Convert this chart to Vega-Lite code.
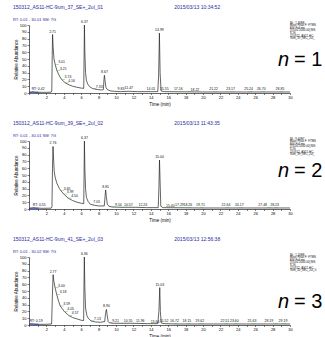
{
  "$schema": "https://vega.github.io/schema/vega-lite/v6.json",
  "padding": {"left": 12, "top": 5, "right": 0, "bottom": 0},
  "background": "white",
  "datasets": {
    "trace": [
      {"p":1,"t":0,"a":1},{"p":1,"t":0.3,"a":1.5},{"p":1,"t":0.42,"a":2},{"p":1,"t":0.6,"a":1.5},{"p":1,"t":1.0,"a":1},{"p":1,"t":2.0,"a":1},{"p":1,"t":2.55,"a":1.2},
      {"p":1,"t":2.62,"a":3},{"p":1,"t":2.67,"a":55},{"p":1,"t":2.71,"a":86},{"p":1,"t":2.77,"a":68},{"p":1,"t":2.87,"a":50},{"p":1,"t":3.01,"a":42},{"p":1,"t":3.21,"a":33},
      {"p":1,"t":3.5,"a":25},{"p":1,"t":3.74,"a":20},{"p":1,"t":4.16,"a":15},{"p":1,"t":4.6,"a":12},{"p":1,"t":5.0,"a":10},{"p":1,"t":5.5,"a":8.5},{"p":1,"t":6.0,"a":7.2},{"p":1,"t":6.29,"a":6.8},
      {"p":1,"t":6.33,"a":50},{"p":1,"t":6.37,"a":100},{"p":1,"t":6.42,"a":60},{"p":1,"t":6.5,"a":30},{"p":1,"t":6.6,"a":18},{"p":1,"t":6.8,"a":12},{"p":1,"t":7.0,"a":9},{"p":1,"t":7.33,"a":6.5},
      {"p":1,"t":7.9,"a":5},{"p":1,"t":8.4,"a":4.5},{"p":1,"t":8.55,"a":5},{"p":1,"t":8.62,"a":20},{"p":1,"t":8.67,"a":26},{"p":1,"t":8.74,"a":18},{"p":1,"t":8.85,"a":8},{"p":1,"t":9.0,"a":5},
      {"p":1,"t":9.4,"a":3},{"p":1,"t":9.83,"a":2.5},{"p":1,"t":10.5,"a":2},{"p":1,"t":11.47,"a":2.5},{"p":1,"t":12.5,"a":2},{"p":1,"t":14.01,"a":2},{"p":1,"t":14.8,"a":2},
      {"p":1,"t":14.9,"a":25},{"p":1,"t":14.99,"a":88},{"p":1,"t":15.07,"a":30},{"p":1,"t":15.18,"a":3},{"p":1,"t":15.55,"a":2},{"p":1,"t":17.16,"a":1.8},{"p":1,"t":20,"a":1.5},{"p":1,"t":25,"a":1.5},{"p":1,"t":30,"a":1.5},

      {"p":2,"t":0,"a":1},{"p":2,"t":0.3,"a":1.5},{"p":2,"t":0.55,"a":2},{"p":2,"t":0.8,"a":1.5},{"p":2,"t":1.5,"a":1},{"p":2,"t":2.55,"a":1.2},
      {"p":2,"t":2.64,"a":3},{"p":2,"t":2.7,"a":60},{"p":2,"t":2.76,"a":92},{"p":2,"t":2.82,"a":75},{"p":2,"t":2.9,"a":55},{"p":2,"t":3.0,"a":47},{"p":2,"t":3.2,"a":38},
      {"p":2,"t":3.5,"a":30},{"p":2,"t":3.65,"a":27},{"p":2,"t":3.99,"a":22},{"p":2,"t":4.5,"a":16},{"p":2,"t":5.0,"a":12.5},{"p":2,"t":5.5,"a":10},{"p":2,"t":6.0,"a":8.5},{"p":2,"t":6.29,"a":7.8},
      {"p":2,"t":6.33,"a":50},{"p":2,"t":6.37,"a":100},{"p":2,"t":6.42,"a":60},{"p":2,"t":6.5,"a":30},{"p":2,"t":6.6,"a":17},{"p":2,"t":6.8,"a":11},{"p":2,"t":7.05,"a":7},{"p":2,"t":7.5,"a":5.5},
      {"p":2,"t":8.0,"a":4.5},{"p":2,"t":8.65,"a":4.5},{"p":2,"t":8.74,"a":18},{"p":2,"t":8.81,"a":28},{"p":2,"t":8.89,"a":18},{"p":2,"t":9.0,"a":7},{"p":2,"t":9.2,"a":4},{"p":2,"t":9.54,"a":3},
      {"p":2,"t":10.57,"a":2.5},{"p":2,"t":12.24,"a":2.5},{"p":2,"t":13.5,"a":2},{"p":2,"t":14.85,"a":2},{"p":2,"t":14.93,"a":30},{"p":2,"t":15.0,"a":72},{"p":2,"t":15.07,"a":40},{"p":2,"t":15.15,"a":4},
      {"p":2,"t":15.4,"a":2},{"p":2,"t":17.29,"a":1.8},{"p":2,"t":20,"a":1.5},{"p":2,"t":25,"a":1.5},{"p":2,"t":30,"a":1.5},

      {"p":3,"t":0,"a":1},{"p":3,"t":0.19,"a":2},{"p":3,"t":0.5,"a":1.5},{"p":3,"t":1.0,"a":1},{"p":3,"t":2.0,"a":1},{"p":3,"t":2.6,"a":1.5},
      {"p":3,"t":2.68,"a":40},{"p":3,"t":2.77,"a":74},{"p":3,"t":2.86,"a":64},{"p":3,"t":3.0,"a":55},{"p":3,"t":3.18,"a":45},{"p":3,"t":3.4,"a":35},{"p":3,"t":3.59,"a":28},
      {"p":3,"t":4.05,"a":20},{"p":3,"t":4.57,"a":14},{"p":3,"t":5.0,"a":11},{"p":3,"t":5.5,"a":9},{"p":3,"t":6.0,"a":7},{"p":3,"t":6.28,"a":6.5},
      {"p":3,"t":6.32,"a":60},{"p":3,"t":6.36,"a":100},{"p":3,"t":6.42,"a":55},{"p":3,"t":6.5,"a":25},{"p":3,"t":6.65,"a":14},{"p":3,"t":6.8,"a":10},{"p":3,"t":7.13,"a":6},{"p":3,"t":7.6,"a":4.5},
      {"p":3,"t":8.2,"a":4},{"p":3,"t":8.7,"a":5},{"p":3,"t":8.8,"a":17},{"p":3,"t":8.9,"a":23},{"p":3,"t":8.98,"a":15},{"p":3,"t":9.1,"a":5},{"p":3,"t":9.21,"a":3.5},{"p":3,"t":9.6,"a":2.5},
      {"p":3,"t":10.55,"a":2.5},{"p":3,"t":11.96,"a":2.5},{"p":3,"t":13.64,"a":2},{"p":3,"t":14.8,"a":2},{"p":3,"t":14.93,"a":20},{"p":3,"t":15.03,"a":55},{"p":3,"t":15.1,"a":20},{"p":3,"t":15.2,"a":3},
      {"p":3,"t":15.52,"a":2},{"p":3,"t":17,"a":1.5},{"p":3,"t":20,"a":1.5},{"p":3,"t":25,"a":1.5},{"p":3,"t":30,"a":1.5}
    ],
    "lab": [
      {"p":1,"t":2.71,"a":86,"s":"2.71","k":"c"},{"p":1,"t":6.37,"a":100,"s":"6.37","k":"c"},{"p":1,"t":8.67,"a":26,"s":"8.67","k":"c"},{"p":1,"t":14.99,"a":88,"s":"14.99","k":"c"},
      {"p":1,"t":0.42,"a":2,"s":"RT: 0.42","k":"l"},
      {"p":1,"t":3.01,"a":42,"s":"3.01","k":"r"},{"p":1,"t":3.21,"a":33,"s":"3.21","k":"r"},{"p":1,"t":3.74,"a":20,"s":"3.74","k":"r"},{"p":1,"t":4.16,"a":15,"s":"4.16","k":"r"},
      {"p":1,"t":7.33,"a":6.5,"s":"7.33","k":"r"},{"p":1,"t":9.83,"a":2.5,"s":"9.83","k":"r"},
      {"p":1,"t":11.47,"a":2.5,"s":"11.47","k":"c"},{"p":1,"t":14.01,"a":2,"s":"14.01","k":"c"},{"p":1,"t":15.55,"a":2,"s":"15.55","k":"c"},{"p":1,"t":17.16,"a":2,"s":"17.16","k":"c"},
      {"p":1,"t":18.22,"a":2,"s":"18.22","k":"r"},{"p":1,"t":21.22,"a":2,"s":"21.22","k":"c"},{"p":1,"t":23.17,"a":2,"s":"23.17","k":"c"},{"p":1,"t":25.24,"a":2,"s":"25.24","k":"c"},
      {"p":1,"t":26.70,"a":2,"s":"26.70","k":"c"},{"p":1,"t":28.85,"a":2,"s":"28.85","k":"c"},

      {"p":2,"t":2.76,"a":92,"s":"2.76","k":"c"},{"p":2,"t":6.37,"a":100,"s":"6.37","k":"c"},{"p":2,"t":8.81,"a":28,"s":"8.81","k":"c"},{"p":2,"t":15.0,"a":72,"s":"15.00","k":"c"},
      {"p":2,"t":0.55,"a":2,"s":"RT: 0.55","k":"l"},
      {"p":2,"t":3.65,"a":27,"s":"3.65","k":"r"},{"p":2,"t":3.99,"a":22,"s":"3.99","k":"r"},{"p":2,"t":4.5,"a":16,"s":"4.50","k":"r"},
      {"p":2,"t":7.05,"a":7,"s":"7.05","k":"r"},{"p":2,"t":9.54,"a":3,"s":"9.54","k":"r"},
      {"p":2,"t":10.57,"a":2.5,"s":"10.57","k":"r"},{"p":2,"t":12.24,"a":2.5,"s":"12.24","k":"r"},{"p":2,"t":15.4,"a":2,"s":"15.40","k":"r"},{"p":2,"t":17.29,"a":2,"s":"17.29","k":"c"},
      {"p":2,"t":18.26,"a":2,"s":"18.26","k":"c"},{"p":2,"t":19.71,"a":2,"s":"19.71","k":"c"},{"p":2,"t":22.64,"a":2,"s":"22.64","k":"c"},{"p":2,"t":24.17,"a":2,"s":"24.17","k":"c"},
      {"p":2,"t":27.48,"a":2,"s":"27.48","k":"w"},{"p":2,"t":28.23,"a":2,"s":"28.23","k":"c"},

      {"p":3,"t":2.77,"a":74,"s":"2.77","k":"c"},{"p":3,"t":6.36,"a":100,"s":"6.36","k":"c"},{"p":3,"t":8.9,"a":23,"s":"8.90","k":"c"},{"p":3,"t":15.03,"a":55,"s":"15.03","k":"c"},
      {"p":3,"t":0.19,"a":2,"s":"RT: 0.19","k":"l"},
      {"p":3,"t":3.0,"a":55,"s":"3.00","k":"r"},{"p":3,"t":3.18,"a":45,"s":"3.18","k":"r"},{"p":3,"t":3.59,"a":28,"s":"3.59","k":"r"},{"p":3,"t":4.05,"a":20,"s":"4.05","k":"r"},
      {"p":3,"t":4.57,"a":14,"s":"4.57","k":"r"},{"p":3,"t":7.13,"a":6,"s":"7.13","k":"r"},{"p":3,"t":9.21,"a":3.5,"s":"9.21","k":"r"},
      {"p":3,"t":10.55,"a":2.5,"s":"10.55","k":"r"},{"p":3,"t":11.96,"a":2.5,"s":"11.96","k":"r"},{"p":3,"t":13.64,"a":2,"s":"13.64","k":"r"},{"p":3,"t":15.52,"a":2,"s":"15.52","k":"c"},
      {"p":3,"t":16.72,"a":2,"s":"16.72","k":"c"},{"p":3,"t":18.15,"a":2,"s":"18.15","k":"c"},{"p":3,"t":19.62,"a":2,"s":"19.62","k":"c"},{"p":3,"t":22.51,"a":2,"s":"22.51","k":"c"},
      {"p":3,"t":23.60,"a":2,"s":"23.60","k":"c"},{"p":3,"t":25.63,"a":2,"s":"25.63","k":"c"},{"p":3,"t":28.19,"a":2,"s":"28.19","k":"w"},{"p":3,"t":29.19,"a":2,"s":"29.19","k":"c"}
    ],
    "meta": [
      {"p":1,"file":"150312_AS11-HC-9um_37_SE+_2ul_01","rt":"RT: 0.01 - 30.01   SM: 7G","date":"2015/03/13 10:34:52","info":"NL: 1.36E8\nBase Peak F: FTMS\nESI Full ms\n[70.00-1000.00]  MS\nICIS\n150312_AS11-HC-\n9um_37_SE+_2ul_","n":"= 1"},
      {"p":2,"file":"150312_AS11-HC-9um_39_SE+_2ul_02","rt":"RT: 0.01 - 30.01   SM: 7G","date":"2015/03/13 11:43:35","info":"NL: 9.40E7\nBase Peak F: FTMS\nESI Full ms\n[70.00-1000.00]  MS\nICIS\n150312_AS11-HC-\n9um_39_SE+_2ul_","n":"= 2"},
      {"p":3,"file":"150312_AS11-HC-9um_41_SE+_2ul_03","rt":"RT: 0.01 - 30.02   SM: 7G","date":"2015/03/13 12:56:38","info":"NL: 1.16E8\nBase Peak F: FTMS\nESI Full ms\n[70.00-1000.00]  MS\nICIS\n150312_AS11-HC-\n9um_41_SE+_2ul_0","n":"= 3"}
    ]
  },
  "spacing": 15,
  "vconcat": [
    {
      "width": 261, "height": 68,
      "resolve": {"axis": {"x": "independent", "y": "independent"}},
      "layer": [
        {"data": {"name": "trace"}, "transform": [{"filter": "datum.p == 1"}], "mark": {"type": "line", "color": "#222", "strokeWidth": 0.7},
         "encoding": {
           "x": {"field": "t", "type": "quantitative", "scale": {"domain": [0, 30], "nice": false}, "title": "Time (min)",
                 "axis": {"format": "d", "labelOverlap": false, "values": [0,0.5,1,1.5,2,2.5,3,3.5,4,4.5,5,5.5,6,6.5,7,7.5,8,8.5,9,9.5,10,10.5,11,11.5,12,12.5,13,13.5,14,14.5,15,15.5,16,16.5,17,17.5,18,18.5,19,19.5,20,20.5,21,21.5,22,22.5,23,23.5,24,24.5,25,25.5,26,26.5,27,27.5,28,28.5,29,29.5,30], "labelExpr": "datum.value > 0 && datum.value % 2 == 0 ? datum.label : ''"}},
           "y": {"field": "a", "type": "quantitative", "scale": {"domain": [0, 100], "nice": false}, "title": "Relative Abundance",
                 "axis": {"labelOverlap": false, "values": [0,10,20,30,40,50,60,70,80,90,100]}}}},
        {"data": {"name": "lab"}, "transform": [{"filter": "datum.p == 1 && (datum.k == 'r' || datum.a < 5) && datum.k != 'l'"}], "mark": {"type": "tick", "orient": "horizontal", "size": 4, "thickness": 0.6, "xOffset": 1.5, "color": "#3cb043"},
         "encoding": {"x": {"field": "t", "type": "quantitative", "axis": null}, "y": {"field": "a", "type": "quantitative", "axis": null}}},
        {"data": {"name": "meta"}, "transform": [{"filter": "datum.p == 1"}], "mark": {"type": "tick", "orient": "horizontal", "size": 9, "thickness": 1.3, "color": "#2a3ad0"},
         "encoding": {"x": {"datum": 0.6, "type": "quantitative", "axis": null}, "y": {"datum": 0.8, "type": "quantitative", "axis": null}}},
        {"data": {"name": "lab"}, "transform": [{"filter": "datum.p == 1 && datum.k == 'c'"}], "mark": {"type": "text", "fontSize": 3.5, "dy": -3, "color": "#111"},
         "encoding": {"x": {"field": "t", "type": "quantitative", "axis": null}, "y": {"field": "a", "type": "quantitative", "axis": null}, "text": {"field": "s"}}},
        {"data": {"name": "lab"}, "transform": [{"filter": "datum.p == 1 && datum.k == 'r'"}], "mark": {"type": "text", "fontSize": 3.5, "dx": 3, "dy": -2, "align": "left", "color": "#111"},
         "encoding": {"x": {"field": "t", "type": "quantitative", "axis": null}, "y": {"field": "a", "type": "quantitative", "axis": null}, "text": {"field": "s"}}},
        {"data": {"name": "lab"}, "transform": [{"filter": "datum.p == 1 && datum.k == 'l'"}], "mark": {"type": "text", "fontSize": 3.5, "dx": -1, "dy": -3, "align": "left", "color": "#111"},
         "encoding": {"x": {"field": "t", "type": "quantitative", "axis": null}, "y": {"field": "a", "type": "quantitative", "axis": null}, "text": {"field": "s"}}},
        {"data": {"name": "meta"}, "transform": [{"filter": "datum.p == 1"}], "mark": {"type": "text", "fontSize": 5, "align": "left", "baseline": "middle", "color": "#2a2aa0"},
         "encoding": {"x": {"datum": -1.84, "type": "quantitative", "axis": null}, "y": {"datum": 126, "type": "quantitative", "axis": null}, "text": {"field": "file"}}},
        {"data": {"name": "meta"}, "transform": [{"filter": "datum.p == 1"}], "mark": {"type": "text", "fontSize": 5, "align": "left", "baseline": "middle", "color": "#2a2aa0"},
         "encoding": {"x": {"datum": 16.7, "type": "quantitative", "axis": null}, "y": {"datum": 126, "type": "quantitative", "axis": null}, "text": {"field": "date"}}},
        {"data": {"name": "meta"}, "transform": [{"filter": "datum.p == 1"}], "mark": {"type": "text", "fontSize": 4, "align": "left", "baseline": "middle", "color": "#2a2aa0"},
         "encoding": {"x": {"datum": -1.84, "type": "quantitative", "axis": null}, "y": {"datum": 108, "type": "quantitative", "axis": null}, "text": {"field": "rt"}}},
        {"data": {"name": "meta"}, "transform": [{"filter": "datum.p == 1"}], "mark": {"type": "text", "fontSize": 2.9, "lineHeight": 2.6, "lineBreak": "\n", "align": "left", "baseline": "top", "color": "#111"},
         "encoding": {"x": {"datum": 30, "type": "quantitative", "axis": null}, "y": {"datum": 105, "type": "quantitative", "axis": null}, "text": {"field": "info"}}},
        {"data": {"name": "meta"}, "transform": [{"filter": "datum.p == 1"}], "mark": {"type": "text", "fontSize": 20, "fontStyle": "italic", "align": "right", "baseline": "middle", "dx": -1, "color": "#000"},
         "encoding": {"x": {"datum": 30, "type": "quantitative", "axis": null}, "y": {"datum": 48, "type": "quantitative", "axis": null}, "text": {"value": "n"}}},
        {"data": {"name": "meta"}, "transform": [{"filter": "datum.p == 1"}], "mark": {"type": "text", "fontSize": 20, "align": "left", "baseline": "middle", "dx": 4, "color": "#000"},
         "encoding": {"x": {"datum": 30, "type": "quantitative", "axis": null}, "y": {"datum": 48, "type": "quantitative", "axis": null}, "text": {"field": "n"}}}
      ]
    },
    {
      "width": 261, "height": 68,
      "resolve": {"axis": {"x": "independent", "y": "independent"}},
      "layer": [
        {"data": {"name": "trace"}, "transform": [{"filter": "datum.p == 2"}], "mark": {"type": "line", "color": "#222", "strokeWidth": 0.7},
         "encoding": {
           "x": {"field": "t", "type": "quantitative", "scale": {"domain": [0, 30], "nice": false}, "title": "Time (min)",
                 "axis": {"format": "d", "labelOverlap": false, "values": [0,0.5,1,1.5,2,2.5,3,3.5,4,4.5,5,5.5,6,6.5,7,7.5,8,8.5,9,9.5,10,10.5,11,11.5,12,12.5,13,13.5,14,14.5,15,15.5,16,16.5,17,17.5,18,18.5,19,19.5,20,20.5,21,21.5,22,22.5,23,23.5,24,24.5,25,25.5,26,26.5,27,27.5,28,28.5,29,29.5,30], "labelExpr": "datum.value > 0 && datum.value % 2 == 0 ? datum.label : ''"}},
           "y": {"field": "a", "type": "quantitative", "scale": {"domain": [0, 100], "nice": false}, "title": "Relative Abundance",
                 "axis": {"labelOverlap": false, "values": [0,10,20,30,40,50,60,70,80,90,100]}}}},
        {"data": {"name": "lab"}, "transform": [{"filter": "datum.p == 2 && (datum.k == 'r' || datum.a < 5) && datum.k != 'l'"}], "mark": {"type": "tick", "orient": "horizontal", "size": 4, "thickness": 0.6, "xOffset": 1.5, "color": "#3cb043"},
         "encoding": {"x": {"field": "t", "type": "quantitative", "axis": null}, "y": {"field": "a", "type": "quantitative", "axis": null}}},
        {"data": {"name": "meta"}, "transform": [{"filter": "datum.p == 2"}], "mark": {"type": "tick", "orient": "horizontal", "size": 9, "thickness": 1.3, "color": "#2a3ad0"},
         "encoding": {"x": {"datum": 0.6, "type": "quantitative", "axis": null}, "y": {"datum": 0.8, "type": "quantitative", "axis": null}}},
        {"data": {"name": "lab"}, "transform": [{"filter": "datum.p == 2 && datum.k == 'c'"}], "mark": {"type": "text", "fontSize": 3.5, "dy": -3, "color": "#111"},
         "encoding": {"x": {"field": "t", "type": "quantitative", "axis": null}, "y": {"field": "a", "type": "quantitative", "axis": null}, "text": {"field": "s"}}},
        {"data": {"name": "lab"}, "transform": [{"filter": "datum.p == 2 && datum.k == 'r'"}], "mark": {"type": "text", "fontSize": 3.5, "dx": 3, "dy": -2, "align": "left", "color": "#111"},
         "encoding": {"x": {"field": "t", "type": "quantitative", "axis": null}, "y": {"field": "a", "type": "quantitative", "axis": null}, "text": {"field": "s"}}},
        {"data": {"name": "lab"}, "transform": [{"filter": "datum.p == 2 && datum.k == 'w'"}], "mark": {"type": "text", "fontSize": 3.5, "dx": -1, "dy": -3, "align": "right", "color": "#111"},
         "encoding": {"x": {"field": "t", "type": "quantitative", "axis": null}, "y": {"field": "a", "type": "quantitative", "axis": null}, "text": {"field": "s"}}},
        {"data": {"name": "lab"}, "transform": [{"filter": "datum.p == 2 && datum.k == 'l'"}], "mark": {"type": "text", "fontSize": 3.5, "dx": -1, "dy": -3, "align": "left", "color": "#111"},
         "encoding": {"x": {"field": "t", "type": "quantitative", "axis": null}, "y": {"field": "a", "type": "quantitative", "axis": null}, "text": {"field": "s"}}},
        {"data": {"name": "meta"}, "transform": [{"filter": "datum.p == 2"}], "mark": {"type": "text", "fontSize": 5, "align": "left", "baseline": "middle", "color": "#2a2aa0"},
         "encoding": {"x": {"datum": -1.84, "type": "quantitative", "axis": null}, "y": {"datum": 126, "type": "quantitative", "axis": null}, "text": {"field": "file"}}},
        {"data": {"name": "meta"}, "transform": [{"filter": "datum.p == 2"}], "mark": {"type": "text", "fontSize": 5, "align": "left", "baseline": "middle", "color": "#2a2aa0"},
         "encoding": {"x": {"datum": 16.7, "type": "quantitative", "axis": null}, "y": {"datum": 126, "type": "quantitative", "axis": null}, "text": {"field": "date"}}},
        {"data": {"name": "meta"}, "transform": [{"filter": "datum.p == 2"}], "mark": {"type": "text", "fontSize": 4, "align": "left", "baseline": "middle", "color": "#2a2aa0"},
         "encoding": {"x": {"datum": -1.84, "type": "quantitative", "axis": null}, "y": {"datum": 108, "type": "quantitative", "axis": null}, "text": {"field": "rt"}}},
        {"data": {"name": "meta"}, "transform": [{"filter": "datum.p == 2"}], "mark": {"type": "text", "fontSize": 2.9, "lineHeight": 2.6, "lineBreak": "\n", "align": "left", "baseline": "top", "color": "#111"},
         "encoding": {"x": {"datum": 30, "type": "quantitative", "axis": null}, "y": {"datum": 105, "type": "quantitative", "axis": null}, "text": {"field": "info"}}},
        {"data": {"name": "meta"}, "transform": [{"filter": "datum.p == 2"}], "mark": {"type": "text", "fontSize": 20, "fontStyle": "italic", "align": "right", "baseline": "middle", "dx": -1, "color": "#000"},
         "encoding": {"x": {"datum": 30, "type": "quantitative", "axis": null}, "y": {"datum": 56, "type": "quantitative", "axis": null}, "text": {"value": "n"}}},
        {"data": {"name": "meta"}, "transform": [{"filter": "datum.p == 2"}], "mark": {"type": "text", "fontSize": 20, "align": "left", "baseline": "middle", "dx": 4, "color": "#000"},
         "encoding": {"x": {"datum": 30, "type": "quantitative", "axis": null}, "y": {"datum": 56, "type": "quantitative", "axis": null}, "text": {"field": "n"}}}
      ]
    },
    {
      "width": 261, "height": 68,
      "resolve": {"axis": {"x": "independent", "y": "independent"}},
      "layer": [
        {"data": {"name": "trace"}, "transform": [{"filter": "datum.p == 3"}], "mark": {"type": "line", "color": "#222", "strokeWidth": 0.7},
         "encoding": {
           "x": {"field": "t", "type": "quantitative", "scale": {"domain": [0, 30], "nice": false}, "title": "Time (min)",
                 "axis": {"format": "d", "labelOverlap": false, "values": [0,0.5,1,1.5,2,2.5,3,3.5,4,4.5,5,5.5,6,6.5,7,7.5,8,8.5,9,9.5,10,10.5,11,11.5,12,12.5,13,13.5,14,14.5,15,15.5,16,16.5,17,17.5,18,18.5,19,19.5,20,20.5,21,21.5,22,22.5,23,23.5,24,24.5,25,25.5,26,26.5,27,27.5,28,28.5,29,29.5,30], "labelExpr": "datum.value > 0 && datum.value % 2 == 0 ? datum.label : ''"}},
           "y": {"field": "a", "type": "quantitative", "scale": {"domain": [0, 100], "nice": false}, "title": "Relative Abundance",
                 "axis": {"labelOverlap": false, "values": [0,10,20,30,40,50,60,70,80,90,100]}}}},
        {"data": {"name": "lab"}, "transform": [{"filter": "datum.p == 3 && (datum.k == 'r' || datum.a < 5) && datum.k != 'l'"}], "mark": {"type": "tick", "orient": "horizontal", "size": 4, "thickness": 0.6, "xOffset": 1.5, "color": "#3cb043"},
         "encoding": {"x": {"field": "t", "type": "quantitative", "axis": null}, "y": {"field": "a", "type": "quantitative", "axis": null}}},
        {"data": {"name": "meta"}, "transform": [{"filter": "datum.p == 3"}], "mark": {"type": "tick", "orient": "horizontal", "size": 9, "thickness": 1.3, "color": "#2a3ad0"},
         "encoding": {"x": {"datum": 0.6, "type": "quantitative", "axis": null}, "y": {"datum": 0.8, "type": "quantitative", "axis": null}}},
        {"data": {"name": "lab"}, "transform": [{"filter": "datum.p == 3 && datum.k == 'c'"}], "mark": {"type": "text", "fontSize": 3.5, "dy": -3, "color": "#111"},
         "encoding": {"x": {"field": "t", "type": "quantitative", "axis": null}, "y": {"field": "a", "type": "quantitative", "axis": null}, "text": {"field": "s"}}},
        {"data": {"name": "lab"}, "transform": [{"filter": "datum.p == 3 && datum.k == 'r'"}], "mark": {"type": "text", "fontSize": 3.5, "dx": 3, "dy": -2, "align": "left", "color": "#111"},
         "encoding": {"x": {"field": "t", "type": "quantitative", "axis": null}, "y": {"field": "a", "type": "quantitative", "axis": null}, "text": {"field": "s"}}},
        {"data": {"name": "lab"}, "transform": [{"filter": "datum.p == 3 && datum.k == 'w'"}], "mark": {"type": "text", "fontSize": 3.5, "dx": -1, "dy": -3, "align": "right", "color": "#111"},
         "encoding": {"x": {"field": "t", "type": "quantitative", "axis": null}, "y": {"field": "a", "type": "quantitative", "axis": null}, "text": {"field": "s"}}},
        {"data": {"name": "lab"}, "transform": [{"filter": "datum.p == 3 && datum.k == 'l'"}], "mark": {"type": "text", "fontSize": 3.5, "dx": -1, "dy": -3, "align": "left", "color": "#111"},
         "encoding": {"x": {"field": "t", "type": "quantitative", "axis": null}, "y": {"field": "a", "type": "quantitative", "axis": null}, "text": {"field": "s"}}},
        {"data": {"name": "meta"}, "transform": [{"filter": "datum.p == 3"}], "mark": {"type": "text", "fontSize": 5, "align": "left", "baseline": "middle", "color": "#2a2aa0"},
         "encoding": {"x": {"datum": -1.84, "type": "quantitative", "axis": null}, "y": {"datum": 126, "type": "quantitative", "axis": null}, "text": {"field": "file"}}},
        {"data": {"name": "meta"}, "transform": [{"filter": "datum.p == 3"}], "mark": {"type": "text", "fontSize": 5, "align": "left", "baseline": "middle", "color": "#2a2aa0"},
         "encoding": {"x": {"datum": 16.7, "type": "quantitative", "axis": null}, "y": {"datum": 126, "type": "quantitative", "axis": null}, "text": {"field": "date"}}},
        {"data": {"name": "meta"}, "transform": [{"filter": "datum.p == 3"}], "mark": {"type": "text", "fontSize": 4, "align": "left", "baseline": "middle", "color": "#2a2aa0"},
         "encoding": {"x": {"datum": -1.84, "type": "quantitative", "axis": null}, "y": {"datum": 108, "type": "quantitative", "axis": null}, "text": {"field": "rt"}}},
        {"data": {"name": "meta"}, "transform": [{"filter": "datum.p == 3"}], "mark": {"type": "text", "fontSize": 2.9, "lineHeight": 2.6, "lineBreak": "\n", "align": "left", "baseline": "top", "color": "#111"},
         "encoding": {"x": {"datum": 30, "type": "quantitative", "axis": null}, "y": {"datum": 105, "type": "quantitative", "axis": null}, "text": {"field": "info"}}},
        {"data": {"name": "meta"}, "transform": [{"filter": "datum.p == 3"}], "mark": {"type": "text", "fontSize": 20, "fontStyle": "italic", "align": "right", "baseline": "middle", "dx": -1, "color": "#000"},
         "encoding": {"x": {"datum": 30, "type": "quantitative", "axis": null}, "y": {"datum": 34, "type": "quantitative", "axis": null}, "text": {"value": "n"}}},
        {"data": {"name": "meta"}, "transform": [{"filter": "datum.p == 3"}], "mark": {"type": "text", "fontSize": 20, "align": "left", "baseline": "middle", "dx": 4, "color": "#000"},
         "encoding": {"x": {"datum": 30, "type": "quantitative", "axis": null}, "y": {"datum": 34, "type": "quantitative", "axis": null}, "text": {"field": "n"}}}
      ]
    }
  ],
  "config": {
    "font": "Liberation Sans",
    "view": {"stroke": null},
    "axis": {"grid": false, "domainColor": "#000", "tickColor": "#000", "domainWidth": 0.6, "tickWidth": 0.5, "tickSize": 1.5,
             "labelFontSize": 4, "titleFontSize": 4.5, "labelColor": "#000", "titleColor": "#000", "titleFontWeight": "normal",
             "labelPadding": 1, "titlePadding": 2, "labelOverlap": false, "labelFlush": false},
    "axisY": {"minExtent": 9, "maxExtent": 9, "tickSize": 2},
    "axisX": {"titlePadding": 1.5}
  }
}
